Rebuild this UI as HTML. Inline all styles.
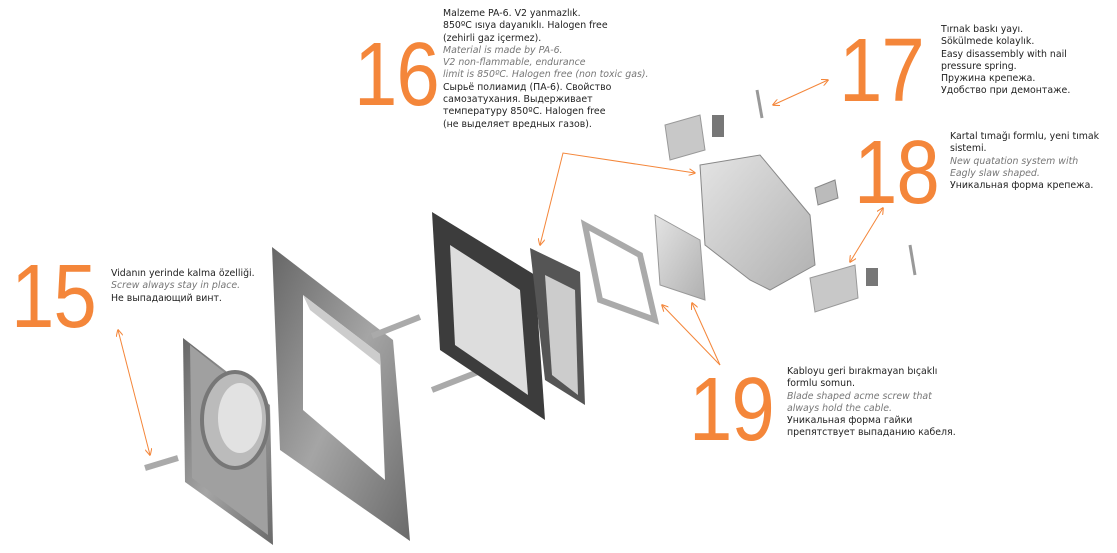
<!DOCTYPE html>
<html><head><meta charset="utf-8"><style>
body{margin:0;width:1117px;height:553px;background:#fff;overflow:hidden;position:relative;font-family:"DejaVu Sans","Liberation Sans",sans-serif}
.t{position:absolute;font-size:9.4px;line-height:12.3px;color:#222;white-space:nowrap}
.t i{color:#777}
.n{position:absolute;font-family:"Liberation Sans",sans-serif;color:#f4863a;font-size:78px;line-height:78px;letter-spacing:-1px;transform:scaleY(1.15);transform-origin:0 0}
svg{position:absolute;left:0;top:0}
</style></head><body>
<svg width="1117" height="553">
<defs><linearGradient id="g" x1="0" y1="0" x2="1" y2="1"><stop offset="0" stop-color="#666"/><stop offset=".5" stop-color="#a5a5a5"/><stop offset="1" stop-color="#6a6a6a"/></linearGradient>
<linearGradient id="l" x1="0" y1="0" x2="1" y2="1"><stop offset="0" stop-color="#e4e4e4"/><stop offset="1" stop-color="#b0b0b0"/></linearGradient>
<marker id="a" viewBox="0 0 10 10" refX="9" refY="5" markerWidth="7" markerHeight="7" orient="auto-start-reverse"><path d="M0,0 L10,5 L0,10" fill="none" stroke="#f4863a" stroke-width="1.5"/></marker></defs>
<!-- socket plate -->
<polygon points="183,338 270,405 273,545 185,482" fill="url(#g)"/>
<polygon points="190,345 265,405 268,535 192,478" fill="#a0a0a0"/>
<ellipse cx="235" cy="420" rx="33" ry="48" fill="#bbb" stroke="#777" stroke-width="4"/>
<ellipse cx="240" cy="418" rx="22" ry="35" fill="#e2e2e2"/>
<!-- frame -->
<polygon points="272,247 393,340 410,541 280,450" fill="url(#g)"/>
<polygon points="303,295 380,354 385,480 303,410" fill="#fff"/>
<polygon points="303,295 380,354 380,365 310,310" fill="#ccc"/>
<!-- screws -->
<line x1="372" y1="336" x2="420" y2="317" stroke="#aaa" stroke-width="6"/>
<line x1="432" y1="390" x2="478" y2="372" stroke="#aaa" stroke-width="6"/>
<line x1="145" y1="468" x2="178" y2="458" stroke="#aaa" stroke-width="6"/>
<!-- mounting plate -->
<polygon points="432,212 535,275 545,420 440,350" fill="#3c3c3c"/>
<polygon points="450,245 520,290 528,395 455,345" fill="#ddd"/>
<polygon points="530,248 580,272 585,405 545,380" fill="#555"/>
<polygon points="545,275 575,290 578,395 552,375" fill="#ccc"/>
<!-- cage -->
<polygon points="585,225 640,255 655,320 600,300" fill="none" stroke="#aaa" stroke-width="6"/>
<polygon points="655,215 700,240 705,300 660,285" fill="url(#l)" stroke="#999"/>
<!-- mechanism -->
<polygon points="700,165 760,155 810,215 815,265 770,290 750,280 705,245" fill="url(#l)" stroke="#888"/>
<polygon points="665,125 700,115 705,150 670,160" fill="#c8c8c8" stroke="#999"/>
<rect x="712" y="115" width="12" height="22" fill="#777"/>
<polygon points="815,188 835,180 838,198 818,205" fill="#bbb" stroke="#888"/>
<polygon points="810,278 855,265 858,298 815,312" fill="#c8c8c8" stroke="#999"/>
<rect x="866" y="268" width="12" height="18" fill="#777"/>
<line x1="757" y1="90" x2="762" y2="118" stroke="#999" stroke-width="3"/>
<line x1="910" y1="245" x2="915" y2="275" stroke="#999" stroke-width="3"/>
<!-- arrows -->
<g stroke="#f4863a" stroke-width="1" fill="none">
<line x1="118" y1="330" x2="150" y2="455" marker-start="url(#a)" marker-end="url(#a)"/>
<polyline points="540,245 563,153 695,173" marker-start="url(#a)" marker-end="url(#a)"/>
<line x1="773" y1="105" x2="828" y2="80" marker-start="url(#a)" marker-end="url(#a)"/>
<line x1="850" y1="262" x2="883" y2="208" marker-start="url(#a)" marker-end="url(#a)"/>
<line x1="720" y1="365" x2="662" y2="305" marker-end="url(#a)"/>
<line x1="720" y1="365" x2="692" y2="303" marker-end="url(#a)"/>
</g>
</svg>
<div class="n" style="left:354px;top:29px">16</div>
<div class="n" style="left:11px;top:251px">15</div>
<div class="n" style="left:839px;top:25px">17</div>
<div class="n" style="left:854px;top:127px">18</div>
<div class="n" style="left:689px;top:364px">19</div>
<div class="t" style="left:443px;top:8px">Malzeme PA-6. V2 yanmazlık.<br>850ºC ısıya dayanıklı. Halogen free<br>(zehirli gaz içermez).<br><i>Material is made by PA-6.<br>V2 non-flammable, endurance<br>limit is 850ºC. Halogen free (non toxic gas).</i><br>Сырьё полиамид (ПА-6). Свойство<br>самозатухания. Выдерживает<br>температуру 850ºC. Halogen free<br>(не выделяет вредных газов).</div>
<div class="t" style="left:941px;top:24px">Tırnak baskı yayı.<br>Sökülmede kolaylık.<br>Easy disassembly with nail<br>pressure spring.<br>Пружина крепежа.<br>Удобство при демонтаже.</div>
<div class="t" style="left:950px;top:131px">Kartal tımağı formlu, yeni tımak<br>sistemi.<br><i>New quatation system with<br>Eagly slaw shaped.</i><br>Уникальная форма крепежа.</div>
<div class="t" style="left:111px;top:268px">Vidanın yerinde kalma özelliği.<br><i>Screw always stay in place.</i><br>Не выпадающий винт.</div>
<div class="t" style="left:787px;top:366px">Kabloyu geri bırakmayan bıçaklı<br>formlu somun.<br><i>Blade shaped acme screw that<br>always hold the cable.</i><br>Уникальная форма гайки<br>препятствует выпаданию кабеля.</div>
</body></html>
